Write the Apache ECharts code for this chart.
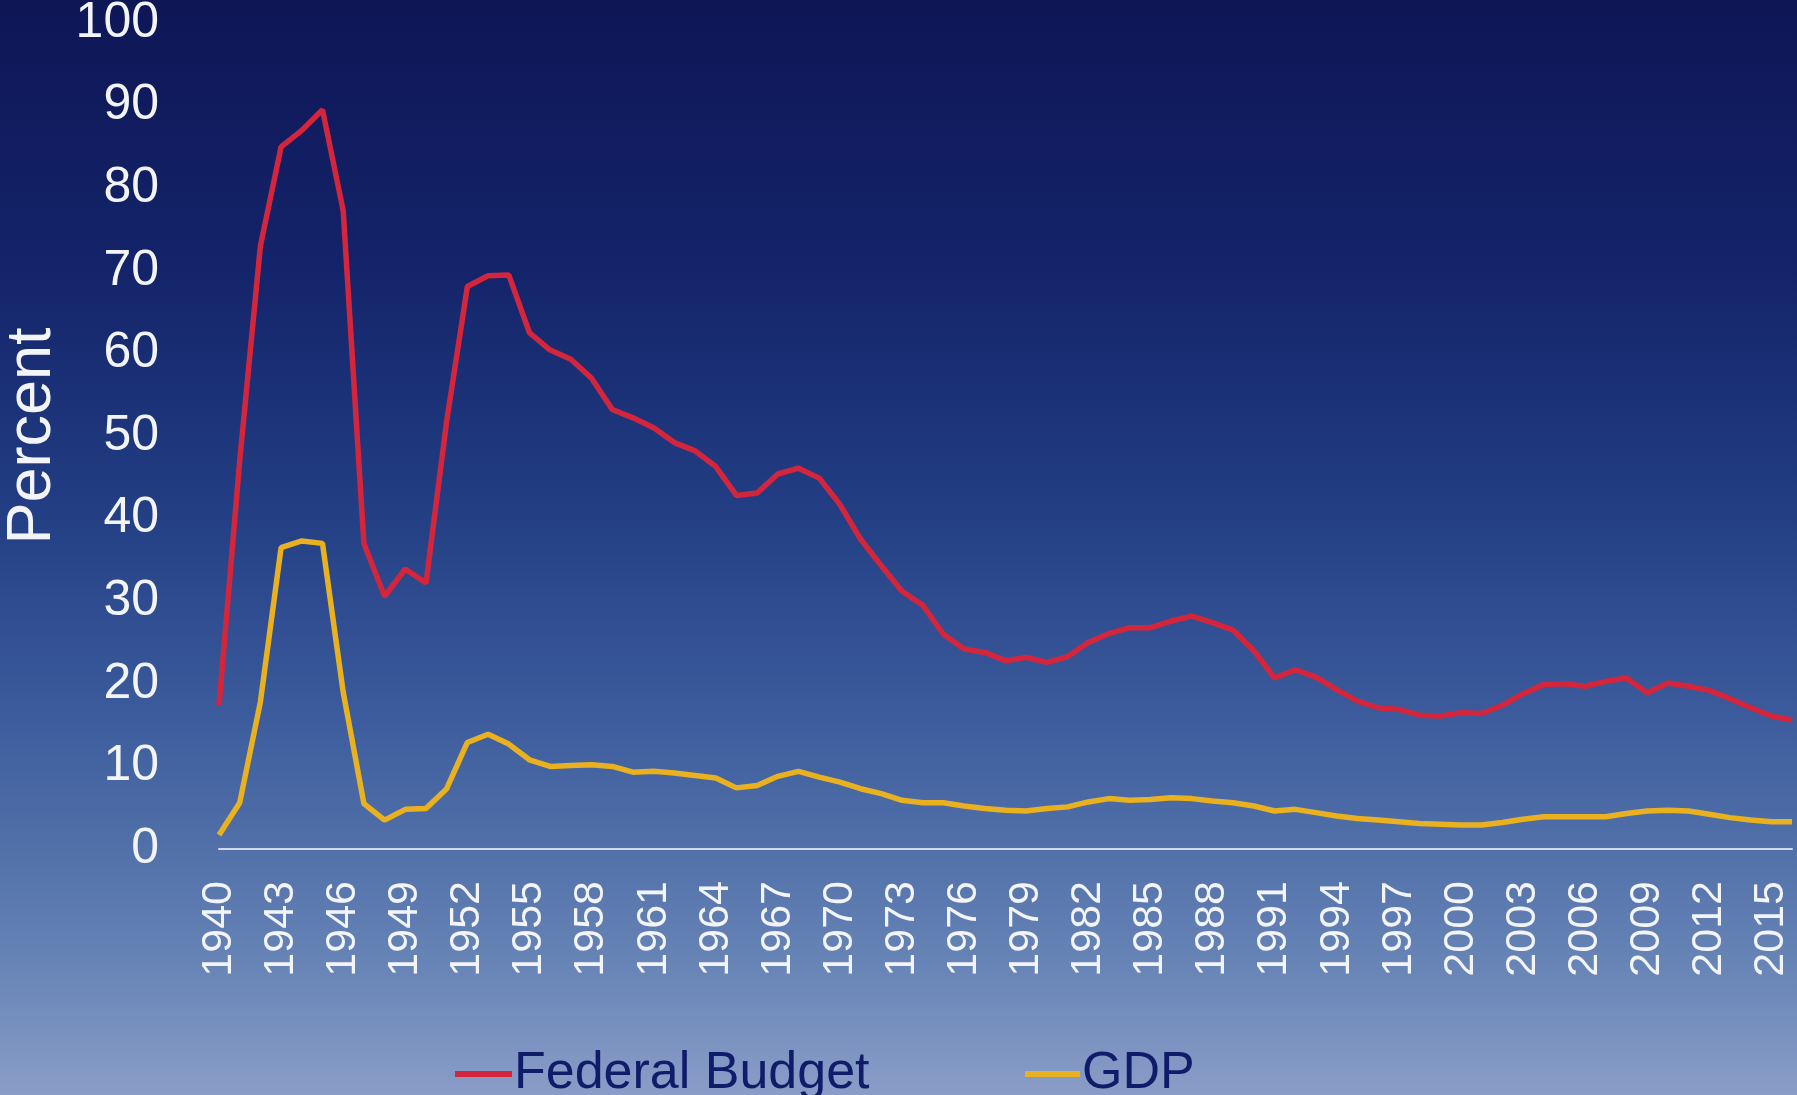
<!DOCTYPE html>
<html>
<head>
<meta charset="utf-8">
<script src="https://cdn.jsdelivr.net/npm/echarts@6/dist/echarts.min.js"></script>
<style>
html,body{margin:0;padding:0;background:#0e1656;}
#chart{width:1797px;height:1095px;}
</style>
</head>
<body>
<div id="chart"></div>
<script>
// Years 1940-2016
const years = [];
for (let y = 1940; y <= 2016; y++) years.push(String(y));

// Defense spending as percent of the federal budget
const federalBudget = [
  17.4, 47.0, 73.0, 85.0, 87.0, 89.5, 77.3, 37.0, 30.6, 33.9,
  32.2, 51.8, 68.1, 69.4, 69.5, 62.5, 60.4, 59.3, 57.0, 53.2,
  52.2, 51.0, 49.2, 48.2, 46.3, 42.8, 43.1, 45.4, 46.1, 44.9,
  41.7, 37.5, 34.3, 31.2, 29.5, 26.0, 24.2, 23.8, 22.8, 23.2,
  22.6, 23.3, 25.0, 26.1, 26.8, 26.8, 27.6, 28.2, 27.4, 26.5,
  24.0, 20.7, 21.7, 20.8, 19.3, 17.9, 17.1, 16.9, 16.2, 16.1,
  16.5, 16.4, 17.4, 18.8, 19.9, 20.0, 19.7, 20.3, 20.7, 18.9,
  20.1, 19.7, 19.2, 18.2, 17.1, 16.1, 15.6
];

// Defense spending as percent of GDP
const gdp = [
  1.7, 5.6, 17.8, 36.5, 37.3, 37.0, 19.0, 5.5, 3.5, 4.8,
  4.9, 7.3, 12.9, 13.9, 12.7, 10.8, 10.0, 10.1, 10.2, 10.0,
  9.3, 9.4, 9.2, 8.9, 8.6, 7.4, 7.7, 8.8, 9.4, 8.7,
  8.1, 7.3, 6.7, 5.9, 5.6, 5.6, 5.2, 4.9, 4.7, 4.6,
  4.9, 5.1, 5.7, 6.1, 5.9, 6.0, 6.2, 6.1, 5.8, 5.6,
  5.2, 4.6, 4.8, 4.4, 4.0, 3.7, 3.5, 3.3, 3.1, 3.0,
  2.9, 2.9, 3.2, 3.6, 3.9, 3.9, 3.9, 3.9, 4.3, 4.6,
  4.7, 4.6, 4.2, 3.8, 3.5, 3.3, 3.3
];

const seriesNames = ['Federal Budget', 'GDP'];
const yTicks = { min: 0, max: 100, interval: 10 };

const FONT = '"Liberation Sans", Arial, Helvetica, sans-serif';
const chart = echarts.init(document.getElementById('chart'), null, {renderer: 'canvas'});

chart.setOption({
  animation: false,
  backgroundColor: {
    type: 'linear', x: 0, y: 0, x2: 0, y2: 1,
    colorStops: [
      {offset: 0, color: '#0e1656'},
      {offset: 0.25, color: '#14246a'},
      {offset: 0.45, color: '#213c82'},
      {offset: 0.65, color: '#3b5b9c'},
      {offset: 0.8, color: '#5675ac'},
      {offset: 0.9, color: '#6c88b9'},
      {offset: 1, color: '#8a9dc8'}
    ]
  },
  textStyle: {fontFamily: FONT},
  grid: {left: 219, right: 5, top: 23, bottom: 246, containLabel: false, outerBoundsMode: 'none'},
  legend: [
    {
      data: [seriesNames[0]], left: 450, top: 1043, icon: 'rect',
      itemWidth: 57, itemHeight: 6, itemGap: 0,
      textStyle: {color: '#101c6a', fontSize: 52, fontFamily: FONT, padding: [0,0,0,-3]}
    },
    {
      data: [seriesNames[1]], left: 1020, top: 1043, icon: 'rect',
      itemWidth: 55, itemHeight: 6, itemGap: 0,
      textStyle: {color: '#101c6a', fontSize: 52, fontFamily: FONT, padding: [0,0,0,-3]}
    }
  ],
  xAxis: {
    type: 'category',
    data: years,
    boundaryGap: false,
    axisLine: {show: true, lineStyle: {color: '#d3d9e6', width: 2}},
    axisTick: {show: false},
    splitLine: {show: false},
    axisLabel: {
      interval: 2, rotate: 90, margin: 32,
      color: '#f2f4f8', fontSize: 43, fontFamily: FONT
    }
  },
  yAxis: {
    type: 'value',
    min: yTicks.min, max: yTicks.max, interval: yTicks.interval,
    name: 'Percent',
    nameLocation: 'middle',
    nameGap: 155,
    nameTextStyle: {color: '#f2f4f8', fontSize: 63, fontFamily: FONT},
    axisLine: {show: false},
    axisTick: {show: false},
    splitLine: {show: false},
    axisLabel: {margin: 60, color: '#f2f4f8', fontSize: 50, fontFamily: FONT}
  },
  series: [
    {
      name: seriesNames[0], type: 'line', data: federalBudget,
      showSymbol: false, symbol: 'none',
      lineStyle: {color: '#d3263d', width: 5.5},
      itemStyle: {color: '#d3263d'}
    },
    {
      name: seriesNames[1], type: 'line', data: gdp,
      showSymbol: false, symbol: 'none',
      lineStyle: {color: '#e9b01f', width: 5.5},
      itemStyle: {color: '#e9b01f'}
    }
  ]
});
</script>
</body>
</html>
